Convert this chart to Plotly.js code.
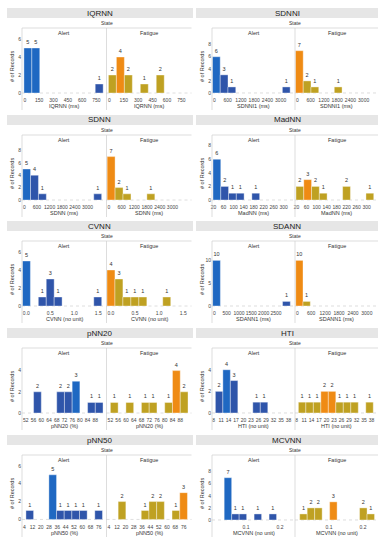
<!DOCTYPE html>
<html>
<head>
<meta charset="utf-8">
<script src="https://cdn.plot.ly/plotly-3.0.1.min.js"></script>
<style>
  html, body { margin: 0; padding: 0; background: #fff; }
  #chart { width: 387px; height: 550px; }
</style>
</head>
<body>
<div id="chart"></div>
<script>
// ---------------- DATA (bin starts, bin size, counts, tick labels) ----------------
const states = ['Alert', 'Fatigue'];

const iqrnnBinSize = 83;
const iqrnnAlertBins = [-10, 73, 737];
const iqrnnAlertCounts = [5, 5, 1];
const iqrnnFatigueBins = [-10, 73, 156, 322, 488];
const iqrnnFatigueCounts = [2, 4, 2, 1, 2];
const iqrnnTicks = [0, 150, 300, 450, 600, 750];

const sdnniBinSize = 352;
const sdnniAlertBins = [-90, 262, 614, 3078];
const sdnniAlertCounts = [6, 3, 1, 1];
const sdnniFatigueBins = [-90, 262, 614, 1670];
const sdnniFatigueCounts = [7, 2, 1, 1];
const sdnniTicks = [0, 600, 1200, 1800, 2400, 3000];

const sdnnBinSize = 375;
const sdnnAlertBins = [-80, 295, 670, 3295];
const sdnnAlertCounts = [5, 4, 1, 1];
const sdnnFatigueBins = [-80, 295, 670, 1795];
const sdnnFatigueCounts = [7, 2, 1, 1];
const sdnnTicks = [0, 600, 1200, 1800, 2400, 3000];

const madnnBinSize = 31;
const madnnAlertBins = [18, 49, 80, 111, 173];
const madnnAlertCounts = [6, 2, 1, 1, 1];
const madnnFatigueBins = [18, 49, 80, 111, 204, 297];
const madnnFatigueCounts = [2, 3, 2, 1, 2, 1];
const madnnTicks = [20, 60, 100, 140, 180, 220, 260, 300];

const cvnnBinSize = 0.165;
const cvnnAlertBins = [-0.08, 0.25, 0.415, 0.58, 1.405];
const cvnnAlertCounts = [5, 1, 3, 1, 1];
const cvnnFatigueBins = [-0.08, 0.085, 0.25, 0.415, 0.58, 1.075];
const cvnnFatigueCounts = [4, 3, 1, 1, 1, 1];
const cvnnTicks = [0, 0.5, 1, 1.5];
const cvnnTickText = ['0.0', '0.5', '1.0', '1.5'];

const sdannBinSize = 315;
const sdannAlertBins = [-70, 2765];
const sdannAlertCounts = [10, 1];
const sdannFatigueBins = [-70, 245];
const sdannFatigueCounts = [10, 1];
const sdannAlertTicks = [0, 500, 1000, 1500, 2000, 2500];
const sdannFatigueTicks = [0, 600, 1200, 1800, 2400, 3000];

const pnn20BinSize = 4;
const pnn20AlertBins = [56, 68, 72, 76, 84, 88];
const pnn20AlertCounts = [2, 2, 2, 3, 1, 1];
const pnn20FatigueBins = [52, 60, 68, 72, 80, 84, 88];
const pnn20FatigueCounts = [1, 1, 1, 1, 1, 4, 2];
const pnn20Ticks = [52, 56, 60, 64, 68, 72, 76, 80, 84, 88];

const htiBinSize = 3;
const htiAlertBins = [8.7, 11.7, 14.7, 23.7, 26.7];
const htiAlertCounts = [2, 4, 3, 1, 1];
const htiFatigueBins = [8.7, 11.7, 14.7, 17.7, 20.7, 23.7, 26.7, 29.7, 35.7];
const htiFatigueCounts = [1, 1, 1, 2, 2, 1, 1, 1, 1];
const htiTicks = [8, 11, 14, 17, 20, 23, 26, 29, 32, 35, 38];

const pnn50BinSize = 7.4;
const pnn50AlertBins = [5.6, 27.8, 35.2, 42.6, 50, 57.4, 72.2];
const pnn50AlertCounts = [1, 5, 1, 1, 1, 1, 1];
const pnn50FatigueBins = [13, 35.2, 42.6, 50, 64.8, 72.2];
const pnn50FatigueCounts = [2, 1, 2, 2, 1, 3];
const pnn50Ticks = [4, 12, 20, 28, 36, 44, 52, 60, 68, 76];

const mcvnnBinSize = 0.022;
const mcvnnAlertBins = [0.0358, 0.0578, 0.0798, 0.1238, 0.1678];
const mcvnnAlertCounts = [7, 1, 1, 1, 1];
const mcvnnFatigueBins = [0.0138, 0.0358, 0.0578, 0.1018, 0.1898, 0.2118];
const mcvnnFatigueCounts = [1, 2, 2, 3, 2, 1];
const mcvnnTicks = [0.1, 0.2];

// ---------------- PANEL CONFIG (data refs + layout/styling) ----------------
const panels = [
  {title:'IQRNN', xTitle:'IQRNN (ms)', size:iqrnnBinSize, aB:iqrnnAlertBins, aC:iqrnnAlertCounts, fB:iqrnnFatigueBins, fC:iqrnnFatigueCounts,
   aTicks:iqrnnTicks, fTicks:iqrnnTicks, aRange:[-30,855], fRange:[-30,855], yTicks:[0,2,4,6], yRange:[-0.33,6.11]},
  {title:'SDNNI', xTitle:'SDNNI1 (ms)', size:sdnniBinSize, aB:sdnniAlertBins, aC:sdnniAlertCounts, fB:sdnniFatigueBins, fC:sdnniFatigueCounts,
   aTicks:sdnniTicks, fTicks:sdnniTicks, aRange:[-110,3650], fRange:[-110,3650], yTicks:[0,2,4,6,8], yRange:[-0.5,9.1]},
  {title:'SDNN', xTitle:'SDNN (ms)', size:sdnnBinSize, aB:sdnnAlertBins, aC:sdnnAlertCounts, fB:sdnnFatigueBins, fC:sdnnFatigueCounts,
   aTicks:sdnnTicks, fTicks:sdnnTicks, aRange:[-110,3900], fRange:[-110,3900], yTicks:[0,2,4,6,8], yRange:[-0.48,8.87]},
  {title:'MadNN', xTitle:'MadNN (ms)', size:madnnBinSize, aB:madnnAlertBins, aC:madnnAlertCounts, fB:madnnFatigueBins, fC:madnnFatigueCounts,
   aTicks:madnnTicks, fTicks:madnnTicks, aRange:[14,345], fRange:[14,345], yTicks:[0,2,4,6,8], yRange:[-0.44,8.1]},
  {title:'CVNN', xTitle:'CVNN (no unit)', size:cvnnBinSize, aB:cvnnAlertBins, aC:cvnnAlertCounts, fB:cvnnFatigueBins, fC:cvnnFatigueCounts,
   aTicks:cvnnTicks, fTicks:cvnnTicks, tickText:cvnnTickText, aRange:[-0.09,1.67], fRange:[-0.09,1.67], yTicks:[0,2,4,6], yRange:[-0.33,6.11]},
  {title:'SDANN', xTitle:'SDANN1 (ms)', size:sdannBinSize, aB:sdannAlertBins, aC:sdannAlertCounts, fB:sdannFatigueBins, fC:sdannFatigueCounts,
   aTicks:sdannAlertTicks, fTicks:sdannFatigueTicks, aRange:[-95,3270], fRange:[-100,3480], yTicks:[0,5,10], yRange:[-0.66,12.06]},
  {title:'pNN20', xTitle:'pNN20 (%)', size:pnn20BinSize, aB:pnn20AlertBins, aC:pnn20AlertCounts, fB:pnn20FatigueBins, fC:pnn20FatigueCounts,
   aTicks:pnn20Ticks, fTicks:pnn20Ticks, aRange:[50,93.8], fRange:[50,93.8], yTicks:[0,2,4], yRange:[-0.28,5.19]},
  {title:'HTI', xTitle:'HTI (no unit)', size:htiBinSize, aB:htiAlertBins, aC:htiAlertCounts, fB:htiFatigueBins, fC:htiFatigueCounts,
   aTicks:htiTicks, fTicks:htiTicks, aRange:[7.35,40.6], fRange:[7.35,40.6], yTicks:[0,2,4], yRange:[-0.28,5.09]},
  {title:'pNN50', xTitle:'pNN50 (%)', size:pnn50BinSize, aB:pnn50AlertBins, aC:pnn50AlertCounts, fB:pnn50FatigueBins, fC:pnn50FatigueCounts,
   aTicks:pnn50Ticks, fTicks:pnn50Ticks, aRange:[1.8,83.5], fRange:[1.8,83.5], yTicks:[0,2,4,6], yRange:[-0.4,6.1]},
  {title:'MCVNN', xTitle:'MCVNN (no unit)', size:mcvnnBinSize, aB:mcvnnAlertBins, aC:mcvnnAlertCounts, fB:mcvnnFatigueBins, fC:mcvnnFatigueCounts,
   aTicks:mcvnnTicks, fTicks:mcvnnTicks, aRange:[0,0.244], fRange:[0,0.244], yTicks:[0,2,4,6,8], yRange:[-0.5,9.1]}
];

// ---------------- GEOMETRY (pixels) ----------------
const W = 387, H = 550;
const cols = [
  {tb0:7, tb1:193, ax:22, split:106.5, right:191.5},
  {tb0:196, tb1:378, ax:212, split:295, right:378}
];
const rowT = [13, 120, 226, 333, 440];
const PX = x => x / W;
const PY = y => 1 - y / H;

const alertColor = '#2f55aa', alertPeak = '#1f68c2';
const fatigueColor = '#bfa122', fatiguePeak = '#ef8b14';
const lineColor = '#cfcfcf';
const FONT = 'Liberation Sans, Arial, sans-serif';

const traces = [];
const layout = {
  width: W, height: H,
  margin: {l:0, r:0, t:0, b:0, pad:0},
  paper_bgcolor: '#ffffff', plot_bgcolor: 'rgba(0,0,0,0)',
  showlegend: false,
  barmode: 'overlay',
  font: {family: FONT, color: '#333'},
  annotations: [], shapes: []
};

const axName = (k, i) => i === 1 ? k + 'axis' : k + 'axis' + i;
const axRef = (k, i) => i === 1 ? k : k + i;
const centers = (bins, size) => bins.map(b => b + size / 2);

function ann(x, y, text, size, extra) {
  layout.annotations.push(Object.assign({
    xref:'paper', yref:'paper', x: PX(x), y: PY(y), text: text, showarrow:false,
    xanchor:'center', yanchor:'middle', font:{size:size, color:'#333', family:FONT}
  }, extra || {}));
}
function hline(x0, x1, y, color, w) {
  layout.shapes.push({type:'line', xref:'paper', yref:'paper', x0:PX(x0), x1:PX(x1), y0:PY(y), y1:PY(y), line:{color:color, width:w}});
}
function vline(x, y0, y1, color, w) {
  layout.shapes.push({type:'line', xref:'paper', yref:'paper', x0:PX(x), x1:PX(x), y0:PY(y0), y1:PY(y1), line:{color:color, width:w}});
}

panels.forEach((P, p) => {
  const c = p % 2, r = Math.floor(p / 2);
  const C = cols[c], T = rowT[r];
  const yDom = [PY(T + 83), PY(T + 25)];

  layout.shapes.push({type:'rect', xref:'paper', yref:'paper', x0:PX(C.tb0), x1:PX(C.tb1), y0:PY(T + 5), y1:PY(T - 5),
    fillcolor:'#e6e6e6', line:{width:0}, layer:'below'});
  ann((C.tb0 + C.tb1) / 2, T, P.title, 8, {font:{size:8, color:'#222', family:FONT}});
  ann((C.ax + C.right) / 2, T + 10, 'State', 5);
  hline(C.ax, C.right, T + 15, lineColor, 0.7);
  vline(C.ax, T + 15, T + 97, lineColor, 0.7);
  vline(C.split, T + 15, T + 97, lineColor, 0.7);
  ann(C.ax - 10, T + 54, '# of Records', 5.5, {textangle:-90});

  const subs = [
    {i: 2 * p + 1, bins:P.aB, counts:P.aC, ticks:P.aTicks, range:P.aRange, x0:C.ax, x1:C.split, base:alertColor, peak:alertPeak, showY:true},
    {i: 2 * p + 2, bins:P.fB, counts:P.fC, ticks:P.fTicks, range:P.fRange, x0:C.split, x1:C.right, base:fatigueColor, peak:fatiguePeak, showY:false}
  ];
  subs.forEach((s, k) => {
    const mx = Math.max.apply(null, s.counts);
    traces.push({
      type:'bar', x: centers(s.bins, P.size), y: s.counts, width: P.size,
      xaxis: axRef('x', s.i), yaxis: axRef('y', s.i),
      text: s.counts.map(String), textposition:'outside', cliponaxis:false, constraintext:'none',
      textfont:{size:5.5, color:'#333', family:FONT},
      marker:{color: s.counts.map(v => v === mx ? s.peak : s.base), line:{color:'rgba(255,255,255,0.75)', width:0.5}},
      hoverinfo:'skip'
    });
    layout[axName('x', s.i)] = {
      domain:[PX(s.x0), PX(s.x1)], range:s.range, anchor:axRef('y', s.i),
      tickmode:'array', tickvals:s.ticks, ticktext: P.tickText ? P.tickText : s.ticks.map(String),
      tickangle:0, automargin:false,
      tickfont:{size:5, color:'#444', family:FONT}, ticks:'', showgrid:false, zeroline:false, showline:false, fixedrange:true
    };
    layout[axName('y', s.i)] = {
      domain:yDom, range:P.yRange, anchor:axRef('x', s.i),
      tickmode:'array', tickvals:P.yTicks, showticklabels:s.showY, automargin:false,
      tickfont:{size:5, color:'#444', family:FONT}, ticks:'', showgrid:false, zeroline:false, showline:false, fixedrange:true
    };
    layout.shapes.push({type:'line', xref: axRef('x', s.i) + ' domain', yref: axRef('y', s.i), x0:0, x1:1, y0:0, y1:0,
      line:{color:'#bdbdbd', width:0.5, dash:'dot'}, layer:'below'});
    ann((s.x0 + s.x1) / 2, T + 20, states[k], 5.5);
    ann((s.x0 + s.x1) / 2, T + 93, P.xTitle, 5.5);
  });
});

Plotly.newPlot('chart', traces, layout, {staticPlot:true, displayModeBar:false});
</script>
</body>
</html>
